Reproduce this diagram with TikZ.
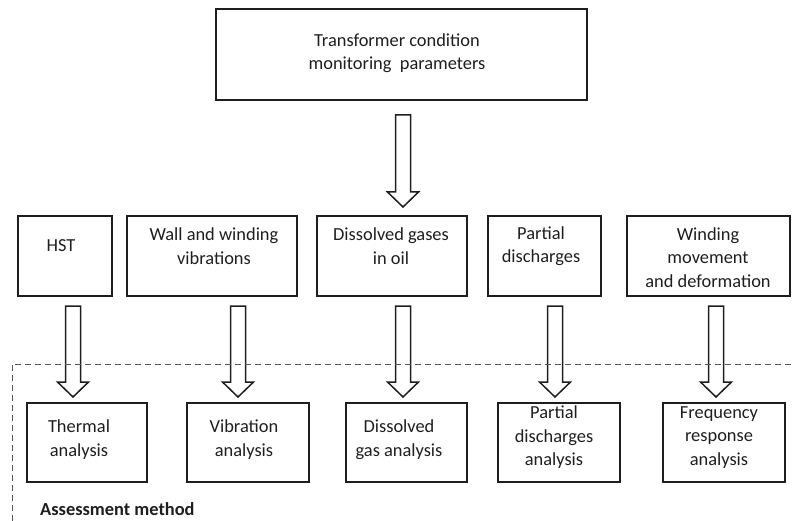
\documentclass[tikz,border=0pt]{standalone}
\usepackage{fontspec}
\setmainfont{Carlito}
\usetikzlibrary{calc}

\definecolor{ink}{HTML}{1E1E1E}
\definecolor{dashgray}{HTML}{555555}

\tikzset{
  box/.style={draw=ink, line width=1.6pt, rectangle, inner sep=0pt},
  lbl/.style={text=ink, align=center, inner sep=0pt,
    font=\fontsize{18.4}{23.5}\selectfont},
  blockarr/.style={draw=ink, line width=1.5pt, line join=miter},
  frame/.style={draw=dashgray, line width=0.9pt, dash pattern=on 6pt off 4pt},
}

% hollow block arrow on the vertical line x = #1,
% from #4 below node #2 down to #5 above node #3
\newcommand\blockarrow[5]{%
  \draw[blockarr] let \p1=(#2.south), \p2=(#3.north) in
    ({#1pt-7.5pt},{\y1-#4pt}) -- ({#1pt+7.5pt},{\y1-#4pt})
    -- ({#1pt+7.5pt},{\y2+#5pt+15pt}) -- ({#1pt+15.5pt},{\y2+#5pt+15pt})
    -- ({#1pt},{\y2+#5pt}) -- ({#1pt-15.5pt},{\y2+#5pt+15pt})
    -- ({#1pt-7.5pt},{\y2+#5pt+15pt}) -- cycle;}

\begin{document}
\begin{tikzpicture}[x=1pt, y=-1pt]
\useasboundingbox (0,0) rectangle (792,521);

% top box
\node[box, minimum width=371.4pt, minimum height=91.4pt] (top) at (401.5,54.5) {};
\node[lbl] (topt) at (397,53) {Transformer condition\\monitoring\ \ parameters};

% monitored parameters
\node[box, minimum width=94.4pt,  minimum height=80.4pt] (hst)  at (65,256)    {};
\node[box, minimum width=170.4pt, minimum height=80.4pt] (wall) at (212,256)   {};
\node[box, minimum width=150.4pt, minimum height=80.4pt] (dis)  at (392,256)   {};
\node[box, minimum width=113.4pt, minimum height=80.4pt] (pd)   at (544.5,256) {};
\node[box, minimum width=163.4pt, minimum height=80.4pt] (wind) at (708.5,256) {};

\node[lbl] (hstt)  at (61,246)  {HST};
\node[lbl] (wallt) at (214,246) {Wall and winding\\vibrations};
\node[lbl] (dist)  at (391,246) {Dissolved gases\\in oil};
\node[lbl] (pdt)   at (541,246) {Partial\\discharges};
\node[lbl] (windt) at (708,257.5) {Winding\\movement\\and deformation};

% assessment methods
\node[box, minimum width=120.4pt, minimum height=79.4pt] (therm) at (87,442.5)    {};
\node[box, minimum width=122.4pt, minimum height=79.4pt] (vib)   at (248,442.5)   {};
\node[box, minimum width=121.4pt, minimum height=79.4pt] (dga)   at (406.5,442.5) {};
\node[box, minimum width=122.4pt, minimum height=79.4pt] (pda)   at (559,442.5)   {};
\node[box, minimum width=122.4pt, minimum height=79.4pt] (fra)   at (724,442.5)   {};

\node[lbl] (thermt) at (79,439.5)  {Thermal\\analysis};
\node[lbl] (vibt)   at (244,439.5) {Vibration\\analysis};
\node[lbl] (dgat)   at (399,439.5) {Dissolved\\gas analysis};
\node[lbl] (pdat)   at (554,437.5) {Partial\\discharges\\analysis};
\node[lbl] (frat)   at (719,437.5) {Frequency\\response\\analysis};

% arrows
\blockarrow{403}{top}{dis}{14}{8}
\blockarrow{73}{hst}{therm}{9}{5}
\blockarrow{238}{wall}{vib}{9}{5}
\blockarrow{403}{dis}{dga}{9}{5}
\blockarrow{555}{pd}{pda}{9}{5}
\blockarrow{716}{wind}{fra}{9}{5}

% dashed frame of the assessment area
\coordinate (fr1) at (12,521);
\coordinate (fr2) at (12,364);
\coordinate (fr3) at (792,364);
\draw[frame] (fr1) -- (fr2) -- (fr3);

\node[lbl, anchor=base west, font=\fontsize{18.4}{23.5}\selectfont\bfseries] (assess) at (40,515) {Assessment method};
\end{tikzpicture}
\end{document}
